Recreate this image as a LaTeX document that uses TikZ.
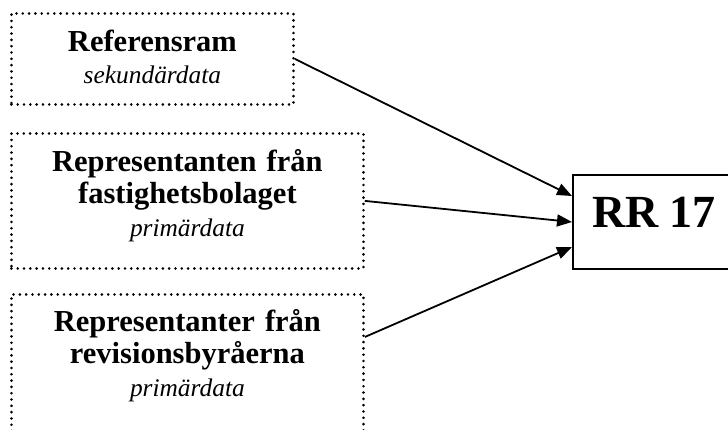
\documentclass[tikz,border=0pt]{standalone}
\usepackage{fontspec}
\setmainfont{Liberation Serif}
\usetikzlibrary{arrows.meta}

\begin{document}
\begin{tikzpicture}[x=1pt, y=-1pt,
    source/.style={draw, line width=2.8pt, dash pattern=on 0.01pt off 6.3pt, line cap=round,
        anchor=north west, inner sep=0pt, align=center,
        font=\fontsize{30.5}{32.5}\selectfont\bfseries},
    pil/.style={-{Triangle[length=15pt, width=12pt]}, line width=1.8pt}]
                \useasboundingbox (0,0) rectangle (728,430);
                \clip (0,0) rectangle (728,430);

                % Sources
                \node[source, text width=282pt, text height=38pt, text depth=53pt] (ref) at (10,12)
                    {Referensram\\{\fontsize{25.4}{32.5}\selectfont\mdseries\itshape sekundärdata}};
                \node[source, text width=352pt, text height=38pt, text depth=97pt] (fast) at (10,132)
                    {Representanten från\\fastighetsbolaget\\{\fontsize{25.4}{32.5}\selectfont\mdseries\itshape primärdata}};
                \node[source, text width=352pt, text height=37pt, text depth=113pt] (rev) at (10,293)
                    {Representanter från\\revisionsbyråerna\\{\fontsize{25.4}{32.5}\selectfont\mdseries\itshape primärdata}};

                % Standard
                \node[draw, line width=2pt, anchor=north west, inner sep=0pt, minimum width=162pt,
                    text height=53pt, text depth=41pt, font=\fontsize{46}{50}\selectfont\bfseries] (rr) at (572,174) {RR 17};

                % Arrows
                \draw[pil] (ref.east) -- ([yshift=26pt]rr.west);
                \draw[pil] (fast.east) -- (rr.west);
                \draw[pil] ([yshift=-44pt]rev.north east) -- ([yshift=-25pt]rr.west);
            \end{tikzpicture}
\end{document}
